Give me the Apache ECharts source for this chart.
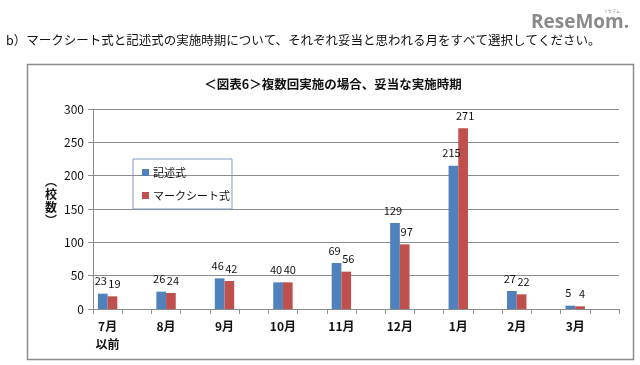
<!DOCTYPE html>
<html><head><meta charset="utf-8">
<script src="https://cdn.jsdelivr.net/npm/echarts@6/dist/echarts.min.js"></script>
<style>html,body{margin:0;padding:0;background:#fff}#c{width:640px;height:365px}</style>
</head><body><div id="c"></div>
<script>
// Months (the reference chart leaves an empty slot after every month)
const months = ['7月\n以前','8月','9月','10月','11月','12月','1月','2月','3月'];
const kijutsu = [23,26,46,40,69,129,215,27,5];
const markSheet = [19,24,42,40,56,97,271,22,4];
const yTicks = {min:0, max:300, interval:50};

// build slotted categories: month, blank, month, blank ...
const categories = [], kData = [], mData = [];
months.forEach((m,i)=>{
  categories.push(m, ' ');
  kData.push(kijutsu[i], '-');
  mData.push(markSheet[i], '-');
});

const FONT = '"Noto Sans CJK JP","Noto Sans",sans-serif';
const chart = echarts.init(document.getElementById('c'));
chart.setOption({
  animation:false,
  textStyle:{fontFamily:FONT},
  graphic:[
    {type:'rect',shape:{x:27.5,y:64.5,width:606,height:295},style:{fill:'none',stroke:'#8c8c8c',lineWidth:1.5},z:-1},
    {type:'text',x:6,y:34,style:{text:'b）マークシート式と記述式の実施時期について、それぞれ妥当と思われる月をすべて選択してください。',font:'12.5px '+FONT,fill:'#111'}},
    {type:'text',x:531,y:13,style:{text:'ReseMom.',font:'bold 19px "Open Sans","DejaVu Sans",sans-serif',fill:'#8a8a8a'}},
    {type:'text',x:604,y:9,style:{text:'リセマム',font:'4px '+FONT,fill:'#8a8a8a'}},
    {type:'text',x:333,y:84,style:{text:'＜図表6＞複数回実施の場合、妥当な実施時期',font:'bold 12.5px '+FONT,fill:'#111',align:'center',verticalAlign:'middle'}},
    {type:'text',x:45,y:175,style:{text:'︵\n校\n数\n︶',font:'bold 12px '+FONT,fill:'#111',lineHeight:13}}
  ],
  legend:{
    orient:'vertical',left:133,top:159,
    borderColor:'#7f9cc0',borderWidth:1,padding:[8,2,8,9],itemGap:12,
    itemWidth:7,itemHeight:7,icon:'rect',
    textStyle:{fontSize:11,color:'#111',fontFamily:FONT,padding:[0,0,0,-1]},
    data:['記述式','マークシート式']
  },
  grid:{left:93,right:21,top:109,bottom:56},
  xAxis:{
    type:'category',data:categories,
    axisLine:{lineStyle:{color:'#8c8c8c'}},
    axisTick:{show:true,alignWithLabel:false,interval:0,length:5,lineStyle:{color:'#8c8c8c'}},
    axisLabel:{interval:0,color:'#111',fontSize:12,fontWeight:'bold',margin:8,lineHeight:18.5,verticalAlign:'top'}
  },
  yAxis:{
    type:'value',min:yTicks.min,max:yTicks.max,interval:yTicks.interval,
    axisLine:{show:true,lineStyle:{color:'#8c8c8c'}},
    axisTick:{show:true,length:5,lineStyle:{color:'#8c8c8c'}},
    splitLine:{lineStyle:{color:'#8c8c8c',width:1}},
    axisLabel:{color:'#111',fontSize:12,margin:9}
  },
  series:[
    {name:'記述式',type:'bar',data:kData,barWidth:9.7,barGap:'0%',itemStyle:{color:'#4f81bd'},
     label:{show:true,position:'top',color:'#111',fontSize:11,offset:[-2,-2]}},
    {name:'マークシート式',type:'bar',data:mData,barWidth:9.7,barGap:'0%',itemStyle:{color:'#c0504d'},
     label:{show:true,position:'top',color:'#111',fontSize:11,offset:[2,-2]}}
  ]
});
</script></body></html>
